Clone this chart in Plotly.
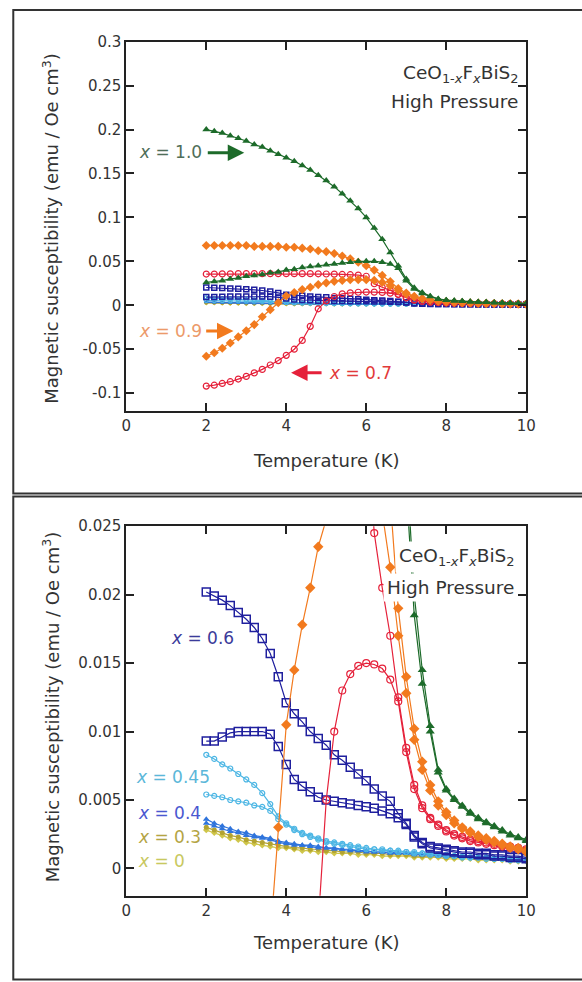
import plotly.graph_objects as go

W, H = 582, 982

# Temperature grid (K)
T = [2.0, 2.2, 2.4, 2.6, 2.8, 3.0, 3.2, 3.4, 3.6, 3.8,
     4.0, 4.2, 4.4, 4.6, 4.8, 5.0, 5.2, 5.4, 5.6, 5.8,
     6.0, 6.2, 6.4, 6.6, 6.8, 7.0, 7.2, 7.4, 7.6, 7.8,
     8.0, 8.2, 8.4, 8.6, 8.8, 9.0, 9.2, 9.4, 9.6, 9.8, 10.0]

# x = 1.0
chi_10_fc = [0.200, 0.198, 0.196, 0.193, 0.190, 0.187, 0.183, 0.180, 0.176, 0.172,
             0.168, 0.164, 0.159, 0.154, 0.148, 0.142, 0.135, 0.127, 0.119, 0.110,
             0.100, 0.088, 0.075, 0.060, 0.045, 0.030, 0.0200, 0.0145, 0.0104, 0.0072,
             0.0058, 0.0051, 0.0046, 0.0041, 0.0037, 0.0034, 0.0031, 0.0028, 0.0025, 0.0023, 0.0021]
chi_10_zfc = [0.026, 0.027, 0.028, 0.030, 0.031, 0.033, 0.034, 0.035, 0.037, 0.038,
              0.040, 0.041, 0.043, 0.044, 0.045, 0.046, 0.047, 0.048, 0.049, 0.050,
              0.050, 0.050, 0.049, 0.047, 0.042, 0.028, 0.0185, 0.0135, 0.0100, 0.0070,
              0.0057, 0.0050, 0.0045, 0.0040, 0.0036, 0.0033, 0.0030, 0.0027, 0.0024, 0.0022, 0.0020]

# x = 0.9
chi_09_fc = [0.068, 0.068, 0.068, 0.068, 0.068, 0.068, 0.067, 0.067, 0.067, 0.067,
             0.066, 0.066, 0.065, 0.064, 0.062, 0.061, 0.059, 0.056, 0.053, 0.049,
             0.045, 0.040, 0.034, 0.027, 0.019, 0.0140, 0.0102, 0.0078, 0.0061, 0.0049,
             0.0041, 0.0035, 0.0030, 0.0027, 0.0024, 0.0022, 0.0020, 0.0018, 0.0016, 0.0015, 0.0013]
chi_09_zfc = [-0.058, -0.054, -0.049, -0.043, -0.036, -0.029, -0.022, -0.013, -0.0050, 0.0030,
              0.0105, 0.0145, 0.0178, 0.0205, 0.0235, 0.0255, 0.0272, 0.0283, 0.0290, 0.0292,
              0.0290, 0.0283, 0.0260, 0.0220, 0.0170, 0.0128, 0.0094, 0.0072, 0.0057, 0.0046,
              0.0039, 0.0033, 0.0029, 0.0026, 0.0023, 0.0021, 0.0019, 0.0017, 0.0015, 0.0014, 0.0012]

# x = 0.7
chi_07_fc = [0.0355, 0.0355, 0.0357, 0.0358, 0.0360, 0.0360, 0.0360, 0.0360, 0.0360, 0.0360,
             0.0360, 0.0360, 0.0360, 0.0360, 0.0358, 0.0356, 0.0354, 0.0351, 0.0348, 0.0343,
             0.0330, 0.0245, 0.0205, 0.0170, 0.0125, 0.0088, 0.0061, 0.0046, 0.0037, 0.0032,
             0.0028, 0.0025, 0.0023, 0.0021, 0.0020, 0.0019, 0.0018, 0.0017, 0.0016, 0.0015, 0.0014]
chi_07_zfc = [-0.092, -0.091, -0.089, -0.087, -0.084, -0.081, -0.077, -0.073, -0.068, -0.063,
              -0.057, -0.050, -0.040, -0.024, -0.004, 0.0050, 0.0100, 0.0130, 0.0142, 0.0148,
              0.0150, 0.0149, 0.0146, 0.0138, 0.0122, 0.0085, 0.0058, 0.0044, 0.0036, 0.0031,
              0.0027, 0.0024, 0.0022, 0.0020, 0.0019, 0.0018, 0.0017, 0.0016, 0.0015, 0.0014, 0.0013]

# x = 0.6
chi_06_fc = [0.0202, 0.0199, 0.0196, 0.0192, 0.0187, 0.0182, 0.0176, 0.0168, 0.0157, 0.0140,
             0.0121, 0.0113, 0.0107, 0.0100, 0.0095, 0.0090, 0.0083, 0.0079, 0.0074, 0.0069,
             0.0064, 0.0058, 0.0053, 0.0049, 0.0040, 0.0033, 0.0024, 0.0019, 0.0016, 0.0015,
             0.0014, 0.0013, 0.0012, 0.0012, 0.0011, 0.0011, 0.0010, 0.0010, 0.0009, 0.0009, 0.0008]
chi_06_zfc = [0.0093, 0.0093, 0.0096, 0.0099, 0.0100, 0.0100, 0.0100, 0.0100, 0.0098, 0.0089,
              0.0076, 0.0065, 0.0060, 0.0056, 0.0052, 0.0050, 0.0049, 0.0048, 0.0047, 0.0046,
              0.0045, 0.0044, 0.0042, 0.0040, 0.0037, 0.0032, 0.0023, 0.0018, 0.0015, 0.0014,
              0.0013, 0.0012, 0.0011, 0.0011, 0.0010, 0.0010, 0.0009, 0.0009, 0.0008, 0.0008, 0.0007]

# x = 0.45
chi_045_fc = [0.0083, 0.0080, 0.0076, 0.0073, 0.0069, 0.0065, 0.0061, 0.0055, 0.0047, 0.0038,
              0.0033, 0.0029, 0.0026, 0.0024, 0.0022, 0.0020, 0.0019, 0.0018, 0.0017, 0.0016,
              0.0015, 0.0014, 0.0014, 0.0013, 0.0013, 0.0012, 0.0012, 0.0011, 0.0011, 0.0010,
              0.0010, 0.0009, 0.0009, 0.0008, 0.0008, 0.0008, 0.0007, 0.0007, 0.0007, 0.0006, 0.0006]
chi_045_zfc = [0.0054, 0.0053, 0.0052, 0.0050, 0.0049, 0.0048, 0.0046, 0.0045, 0.0042, 0.0036,
               0.0032, 0.0028, 0.0025, 0.0023, 0.0021, 0.0019, 0.0018, 0.0017, 0.0016, 0.0015,
               0.0014, 0.0014, 0.0013, 0.0013, 0.0012, 0.0012, 0.0011, 0.0011, 0.0010, 0.0010,
               0.0009, 0.0009, 0.0008, 0.0008, 0.0008, 0.0007, 0.0007, 0.0007, 0.0006, 0.0006, 0.0006]

# x = 0.4
chi_04_fc = [0.0036, 0.0033, 0.0031, 0.0029, 0.0027, 0.0026, 0.0024, 0.0023, 0.0022, 0.0020,
             0.0019, 0.0018, 0.0017, 0.0017, 0.0016, 0.0015, 0.0015, 0.0014, 0.0014, 0.0013,
             0.0013, 0.0012, 0.0012, 0.0012, 0.0011, 0.0011, 0.0011, 0.0010, 0.0010, 0.0010,
             0.0009, 0.0009, 0.0009, 0.0008, 0.0008, 0.0008, 0.0008, 0.0007, 0.0007, 0.0007, 0.00065]
chi_04_zfc = [0.0033, 0.0031, 0.0029, 0.0027, 0.0026, 0.0024, 0.0023, 0.0022, 0.0021, 0.0019,
              0.0018, 0.0017, 0.0017, 0.0016, 0.0015, 0.0015, 0.0014, 0.0014, 0.0013, 0.0013,
              0.0012, 0.0012, 0.0012, 0.0011, 0.0011, 0.0011, 0.0010, 0.0010, 0.0010, 0.0009,
              0.0009, 0.0009, 0.0008, 0.0008, 0.0008, 0.0008, 0.0007, 0.0007, 0.0007, 0.0006, 0.0006]

# x = 0.3
chi_03 = [0.0030, 0.0028, 0.0026, 0.0024, 0.0023, 0.0021, 0.0020, 0.0019, 0.0018, 0.0017,
          0.0016, 0.0015, 0.0015, 0.0014, 0.0014, 0.0013, 0.0013, 0.0012, 0.0012, 0.0012,
          0.0011, 0.0011, 0.0011, 0.0010, 0.0010, 0.0010, 0.0009, 0.0009, 0.0009, 0.0009,
          0.0008, 0.0008, 0.0008, 0.0008, 0.0007, 0.0007, 0.0007, 0.0007, 0.0006, 0.0006, 0.0006]

# x = 0
chi_00 = [0.0028, 0.0026, 0.0024, 0.0022, 0.0021, 0.0019, 0.0018, 0.0017, 0.0016, 0.0015,
          0.0015, 0.0014, 0.0013, 0.0013, 0.0012, 0.0012, 0.0011, 0.0011, 0.0011, 0.0010,
          0.0010, 0.0010, 0.0009, 0.0009, 0.0009, 0.0009, 0.0008, 0.0008, 0.0008, 0.0008,
          0.0007, 0.0007, 0.0007, 0.0007, 0.0006, 0.0006, 0.0006, 0.0006, 0.0005, 0.0005, 0.0005]

top_yticks = [0.3, 0.25, 0.2, 0.15, 0.1, 0.05, 0, -0.05, -0.1]
top_ylabels = ["0.3", "0.25", "0.2", "0.15", "0.1", "0.05", "0", "-0.05", "-0.1"]
bot_yticks = [0.025, 0.02, 0.015, 0.01, 0.005, 0]
bot_ylabels = ["0.025", "0.02", "0.015", "0.01", "0.005", "0"]
xticks = [0, 2, 4, 6, 8, 10]

GREEN = "#1d6b2a"
ORANGE = "#f27a1e"
RED = "#e5213a"
NAVY = "#1f1f9e"
CYAN = "#4cb6e4"
BLUE = "#2f74dc"
OLIVE = "#b3a331"
YELLOW = "#cfc64a"
INK = "#333333"
FONT = "DejaVu Sans"


def fx(px):
    return px / W


def fy(py):
    return (H - py) / H


# (values, color, symbol, size in upper panel, size in lower panel, outline width)
series = [
    (chi_00, YELLOW, "diamond", 4, 5, 0),
    (chi_03, OLIVE, "circle", 4, 5, 0),
    (chi_04_zfc, BLUE, "triangle-up", 4, 6, 0),
    (chi_04_fc, BLUE, "triangle-up", 4, 6, 0),
    (chi_045_zfc, CYAN, "circle-open", 4, 5, 1.2),
    (chi_045_fc, CYAN, "circle-open", 4, 5, 1.2),
    (chi_06_zfc, NAVY, "square-open", 5, 8, 1.5),
    (chi_06_fc, NAVY, "square-open", 5, 8, 1.5),
    (chi_07_zfc, RED, "circle-open", 6, 7, 1.2),
    (chi_07_fc, RED, "circle-open", 6, 7, 1.2),
    (chi_09_zfc, ORANGE, "diamond", 7, 8, 0),
    (chi_09_fc, ORANGE, "diamond", 7, 8, 0),
    (chi_10_zfc, GREEN, "triangle-up", 7, 8, 0),
    (chi_10_fc, GREEN, "triangle-up", 7, 8, 0),
]

fig = go.Figure()
for panel, (xa, ya) in enumerate((("x", "y"), ("x2", "y2"))):
    for vals, color, symbol, s_top, s_bot, lw in series:
        fig.add_trace(go.Scatter(
            x=T, y=vals, xaxis=xa, yaxis=ya, mode="lines+markers",
            line=dict(color=color, width=1.2),
            marker=dict(symbol=symbol, size=s_top if panel == 0 else s_bot,
                        color=color, line=dict(color=color, width=lw)),
            showlegend=False, hoverinfo="skip",
        ))

axis_common = dict(
    showline=True, linecolor="#222222", linewidth=2, mirror="ticks",
    ticks="inside", ticklen=8, tickwidth=1.5, tickcolor="#222222",
    showgrid=False, zeroline=False,
    tickfont=dict(family=FONT, size=15, color=INK),
)

x_dom = [fx(124.5), fx(535)]
fig.update_layout(
    width=W, height=H, margin=dict(l=0, r=0, t=0, b=0),
    paper_bgcolor="white", plot_bgcolor="white",
    xaxis=dict(axis_common, domain=x_dom, anchor="y", range=[0, 10],
               tickvals=xticks, ticktext=[str(v) for v in xticks]),
    yaxis=dict(axis_common, domain=[fy(405.4), fy(33)], anchor="x", range=[-0.12, 0.3],
               tickvals=top_yticks, ticktext=top_ylabels),
    xaxis2=dict(axis_common, domain=x_dom, anchor="y2", range=[0, 10],
                tickvals=xticks, ticktext=[str(v) for v in xticks]),
    yaxis2=dict(axis_common, domain=[fy(895), fy(522)], anchor="x2", range=[-0.002, 0.025],
                tickvals=bot_yticks, ticktext=bot_ylabels),
)

# panel frames
frame = dict(type="rect", xref="paper", yref="paper", line=dict(color=INK, width=2),
             fillcolor="rgba(0,0,0,0)", layer="above")
fig.add_shape(frame, x0=fx(8.5), x1=1.05, y0=fy(489), y1=fy(1))
fig.add_shape(frame, x0=fx(8.5), x1=1.05, y0=fy(979.5), y1=fy(492))

ann = []
ytitle = "Magnetic susceptibility (emu / Oe cm<sup>3</sup>)"
formula = "CeO<sub>1-<i>x</i></sub>F<sub><i>x</i></sub>BiS<sub>2</sub>"
for yc, xy in ((221, 456), (704, 942)):
    ann.append(dict(text=ytitle, x=fx(47), y=fy(yc), xref="paper", yref="paper",
                    textangle=-90, showarrow=False, xanchor="center", yanchor="middle",
                    font=dict(family=FONT, size=18, color=INK)))
    ann.append(dict(text="Temperature (K)", x=fx(330), y=fy(xy), xref="paper", yref="paper",
                    showarrow=False, xanchor="center", yanchor="middle",
                    font=dict(family=FONT, size=18, color=INK)))

# compound label, upper panel
txt = dict(xref="paper", yref="paper", showarrow=False, xanchor="right", yanchor="middle",
           font=dict(family=FONT, size=18.5, color=INK))
ann.append(dict(txt, text=formula, x=fx(530), y=fy(66)))
ann.append(dict(txt, text="High Pressure", x=fx(529), y=fy(93)))
# compound label, lower panel (on white so the curves pass behind it)
ann.append(dict(txt, text=formula, x=fx(528), y=fy(553), bgcolor="white", borderpad=3))
ann.append(dict(txt, text="High Pressure", x=fx(527), y=fy(584), bgcolor="white", borderpad=3))

# series labels, upper panel
lab = dict(xref="paper", yref="paper", showarrow=False, xanchor="left", yanchor="middle")
ann.append(dict(lab, text="<i>x</i> = 1.0", x=fx(135), y=fy(144),
                font=dict(family=FONT, size=17, color="#4f6e58")))
ann.append(dict(lab, text="<i>x</i> = 0.9", x=fx(135), y=fy(325),
                font=dict(family=FONT, size=17, color="#ec9a6a")))
ann.append(dict(lab, text="<i>x</i> = 0.7", x=fx(331), y=fy(367),
                font=dict(family=FONT, size=17, color="#e23a3a")))

# arrows, upper panel (tail -> head, data coordinates)
arrows = [
    ((2.0, 0.1737), (2.95, 0.1737), GREEN),
    ((1.96, -0.0293), (2.68, -0.0293), ORANGE),
    ((4.92, -0.0767), (4.12, -0.0767), RED),
]
for (tx, ty), (hx, hy), col in arrows:
    ann.append(dict(text="", x=hx, y=hy, ax=tx, ay=ty, xref="x", yref="y", axref="x", ayref="y",
                    showarrow=True, arrowhead=2, arrowsize=1.1, arrowwidth=3, arrowcolor=col))

# series labels, lower panel
ann.append(dict(lab, text="<i>x</i> = 0.6", x=fx(168), y=fy(635),
                font=dict(family=FONT, size=17, color="#3b3b9a")))
ann.append(dict(lab, text="<i>x</i> = 0.45", x=fx(132), y=fy(775),
                font=dict(family=FONT, size=17, color="#5bb7d9")))
ann.append(dict(lab, text="<i>x</i> = 0.4", x=fx(134), y=fy(811),
                font=dict(family=FONT, size=17, color="#4a58d0")))
ann.append(dict(lab, text="<i>x</i> = 0.3", x=fx(134), y=fy(836),
                font=dict(family=FONT, size=17, color="#b4a444")))
ann.append(dict(lab, text="<i>x</i> = 0", x=fx(134), y=fy(860),
                font=dict(family=FONT, size=17, color="#c8c860")))

fig.update_layout(annotations=ann)
fig.write_html("out.html")
